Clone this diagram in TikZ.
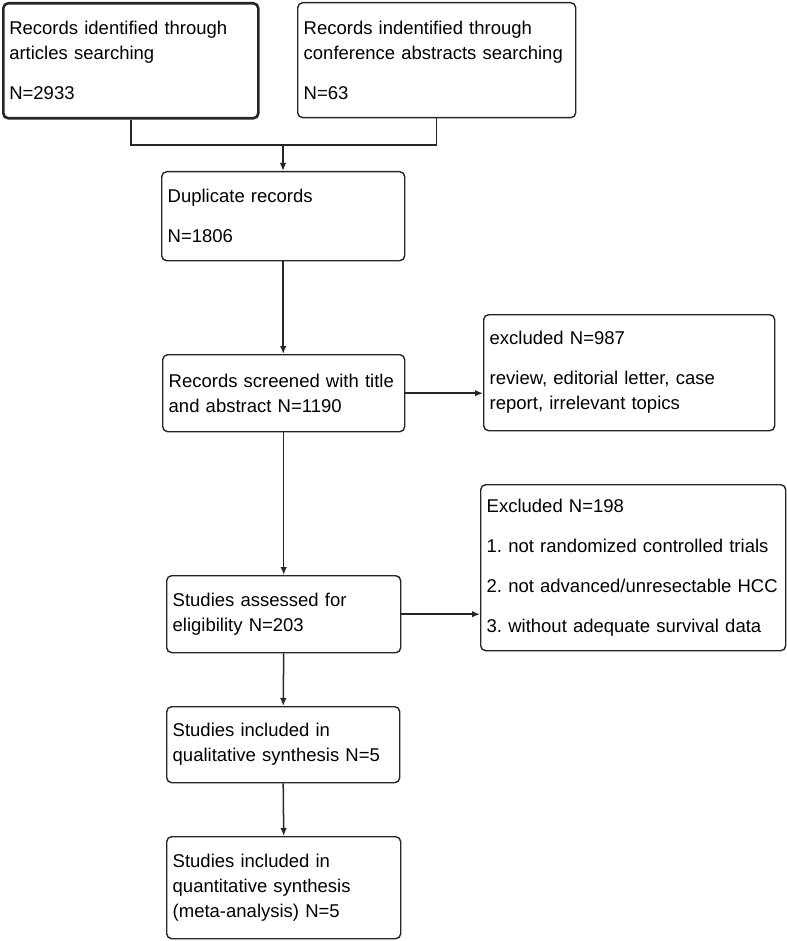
\documentclass[tikz,border=0pt]{standalone}
\usepackage{fontspec}
\setmainfont{Liberation Sans}
\frenchspacing
\usetikzlibrary{arrows.meta}
\begin{document}
\begin{tikzpicture}[x=1pt,y=-1pt,
    box/.style={draw=black!85,line width=1.4pt,rounded corners=5pt,anchor=north west,align=left,
      inner xsep=6pt,inner ysep=0pt,font=\fontsize{18.5}{25}\selectfont},
    arr/.style={-{Latex[length=8pt,width=6.5pt]},draw=black!85,line width=1.5pt}]
              \useasboundingbox (0,0) rectangle (786,941);
              \node[box,line width=2.6pt,minimum width=255pt,minimum height=115pt,text width=243pt](src1)at(2,2){Records identified through\\articles searching\\[15pt]N=2933\\[4pt]};
              \node[box,minimum width=278pt,minimum height=115pt,text width=266pt](src2)at(297,2){Records indentified through\\conference abstracts searching\\[15pt]N=63\\[4pt]};
              \node[box,minimum width=243pt,minimum height=89pt,text width=231pt](dup)at(161,171){Duplicate records\\[15pt]N=1806};
              \node[box,minimum width=242pt,minimum height=77pt,text width=230pt](scr)at(162,354){Records screened with title\\and abstract N=1190\\[4pt]};
              \node[box,minimum width=291pt,minimum height=116pt,text width=279pt](exc1)at(483,314){excluded N=987\\[15pt]review, editorial letter, case\\report, irrelevant topics};
              \node[box,minimum width=234pt,minimum height=77pt,text width=222pt](elig)at(166,575){Studies assessed for\\eligibility N=203\\[4pt]};
              \node[box,minimum width=305pt,minimum height=166pt,text width=293pt](exc2)at(480,484){Excluded N=198\\[15pt]1. not randomized controlled trials\\[15pt]2. not advanced/unresectable HCC\\[15pt]3. without adequate survival data};
              \node[box,minimum width=233pt,minimum height=76pt,text width=221pt](qual)at(166,706){Studies included in\\qualitative synthesis N=5\\[4pt]};
              \node[box,minimum width=234pt,minimum height=102pt,text width=222pt](quant)at(166,836){Studies included in\\quantitative synthesis\\(meta-analysis) N=5\\[4pt]};
              \coordinate(join)at(283,145);
              \draw[draw=black!85,line width=1.5pt](src1.south)|-(join)-|(src2.south);
              \draw[arr](join)--(join|-dup.north);
              \draw[arr](dup.south)--(dup.south|-scr.north);
              \draw[arr](scr.east)--(scr.east-|exc1.west);
              \draw[arr](scr.south)--(scr.south|-elig.north);
              \draw[arr](elig.east)--(elig.east-|exc2.west);
              \draw[arr](elig.south)--(qual.north);
              \draw[arr](qual.south)--(quant.north);
            \end{tikzpicture}
\end{document}
